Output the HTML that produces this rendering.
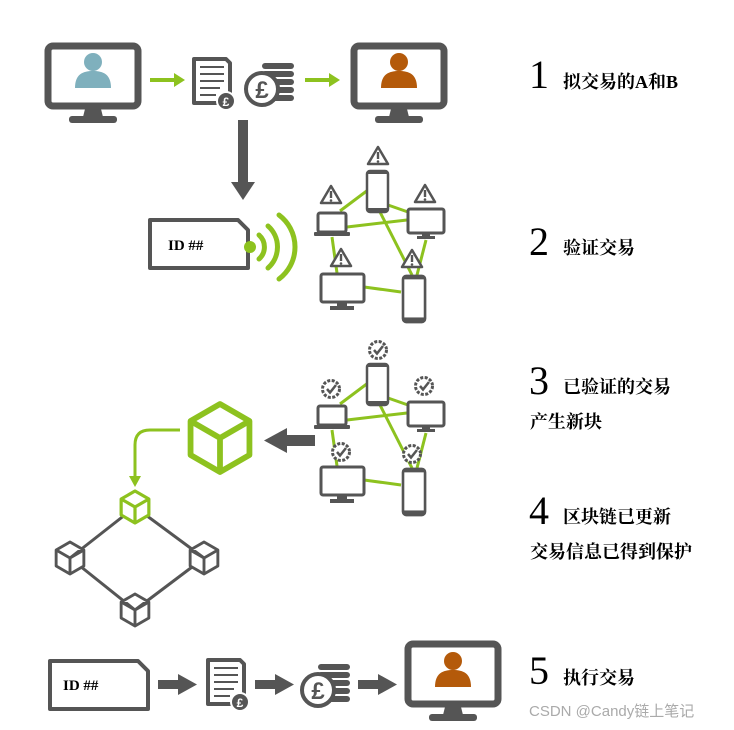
<!DOCTYPE html>
<html><head><meta charset="utf-8"><style>
body{margin:0;background:#fff;width:734px;height:730px;overflow:hidden}
svg{display:block}
.t{font-family:"Liberation Serif","Noto Serif CJK SC",serif;font-weight:bold;font-size:18px;fill:#000}
.n{font-family:"Liberation Serif",serif;font-size:40px;fill:#000}
.id{font-family:"Liberation Serif",serif;font-size:15px;font-weight:bold;fill:#000}
</style></head><body>
<svg width="734" height="730" viewBox="0 0 734 730" xmlns="http://www.w3.org/2000/svg">
<defs>
 <g id="mon">
  <rect x="3" y="3" width="90" height="60" rx="5" fill="#fff" stroke="#555" stroke-width="7"/>
  <path d="M40 66 L56 66 L58 74 L38 74 Z" fill="#555"/>
  <rect x="24" y="73" width="48" height="7" rx="3" fill="#555"/>
 </g>
 <g id="person">
  <circle cx="0" cy="0" r="9"/>
  <path d="M-18 26 C-18 12 -10 9 0 9 C10 9 18 12 18 26 Z"/>
 </g>
 <g id="doc">
  <path d="M2 2 H34 L38 6 V46 H2 Z" fill="#fff" stroke="#555" stroke-width="4" stroke-linejoin="round"/>
  <g stroke="#555" stroke-width="2"><line x1="8" y1="10" x2="32" y2="10"/><line x1="8" y1="17" x2="32" y2="17"/><line x1="8" y1="24" x2="32" y2="24"/><line x1="8" y1="31" x2="28" y2="31"/><line x1="8" y1="38" x2="24" y2="38"/></g>
  <circle cx="34" cy="44" r="9" fill="#555" stroke="#fff" stroke-width="2"/>
  <text x="34" y="49" font-family="Liberation Sans" font-weight="bold" font-size="12" fill="#fff" text-anchor="middle">£</text>
 </g>
 <g id="coins">
  <g fill="#555">
   <rect x="16" y="2" width="32" height="6" rx="3"/><rect x="16" y="10" width="32" height="6" rx="3"/><rect x="16" y="18" width="32" height="6" rx="3"/><rect x="16" y="26" width="32" height="6" rx="3"/><rect x="16" y="34" width="32" height="6" rx="3"/>
  </g>
  <circle cx="16" cy="28" r="16" fill="#fff" stroke="#555" stroke-width="4"/>
  <text x="16" y="37" font-family="Liberation Sans" font-weight="bold" font-size="24" fill="#555" text-anchor="middle">£</text>
 </g>
 <g id="card">
  <path d="M2 2 H90 L100 12 V50 H2 Z" fill="#fff" stroke="#555" stroke-width="4" stroke-linejoin="round"/>
 </g>
 <g id="phone">
  <rect x="0" y="0" width="21" height="41" rx="3" fill="#fff" stroke="#555" stroke-width="2.5"/>
  <rect x="0" y="0" width="21" height="3" fill="#555"/><rect x="0" y="37" width="21" height="4" fill="#555"/>
 </g>
 <g id="net">
  <g stroke="#8dc21f" stroke-width="3">
   <line x1="340" y1="211" x2="368" y2="190"/><line x1="388" y1="205" x2="408" y2="212"/>
   <line x1="347" y1="227" x2="407" y2="220"/><line x1="380" y1="212" x2="412" y2="275"/>
   <line x1="332" y1="237" x2="337" y2="273"/><line x1="426" y1="240" x2="417" y2="275"/>
   <line x1="364" y1="287" x2="401" y2="292"/>
  </g>
  <use href="#phone" x="367" y="171"/>
  <use href="#phone" x="403" y="276" transform="translate(403 276) scale(1.05 1.12) translate(-403 -276)"/>
  <rect x="318" y="213" width="28" height="19" rx="2" fill="#fff" stroke="#555" stroke-width="3"/>
  <rect x="314" y="232" width="36" height="4" rx="1" fill="#555"/>
  <rect x="408" y="209" width="36" height="24" rx="2" fill="#fff" stroke="#555" stroke-width="3"/>
  <rect x="422" y="233" width="8" height="4" fill="#555"/><rect x="417" y="236" width="18" height="3" fill="#555"/>
  <rect x="321" y="274" width="43" height="28" rx="2" fill="#fff" stroke="#555" stroke-width="3"/>
  <rect x="337" y="302" width="10" height="5" fill="#555"/><rect x="330" y="306" width="24" height="4" fill="#555"/>
 </g>
 <g id="warn">
  <path d="M0 -9 L10 8 H-10 Z" fill="#fff" stroke="#555" stroke-width="2.5" stroke-linejoin="round"/>
  <rect x="-1.2" y="-4" width="2.4" height="7" fill="#555"/><circle cx="0" cy="5.5" r="1.3" fill="#555"/>
 </g>
 <g id="chk">
  <circle r="8.5" fill="#fff" stroke="#555" stroke-width="3" stroke-dasharray="3 1.5"/>
  <path d="M-4 0 L-1 3.5 L5 -4" fill="none" stroke="#555" stroke-width="2.5"/>
 </g>
 <g id="cube">
  <path d="M0 -1 L0.866 -0.5 L0.866 0.5 L0 1 L-0.866 0.5 L-0.866 -0.5 Z M-0.866 -0.5 L0 0 L0.866 -0.5 M0 0 L0 1" fill="#fff" stroke-linejoin="round"/>
 </g>
</defs>

<use href="#mon" x="45" y="43"/>
<use href="#person" transform="translate(93 62)" fill="#7fb0bd"/>
<g stroke="#8dc21f" stroke-width="4"><line x1="150" y1="80" x2="176" y2="80"/><line x1="305" y1="80" x2="331" y2="80"/></g>
<path d="M174 73 L185 80 L174 87 Z M329 73 L340 80 L329 87 Z" fill="#8dc21f"/>
<use href="#doc" x="192" y="57"/>
<use href="#coins" x="246" y="61"/>
<use href="#mon" x="351" y="43"/>
<use href="#person" transform="translate(399 62)" fill="#b45a0a"/>

<rect x="238" y="120" width="10" height="65" fill="#555"/>
<path d="M231 182 H255 L243 200 Z" fill="#555"/>

<use href="#card" x="148" y="218"/>
<text x="168" y="250" class="id">ID ##</text>
<circle cx="250" cy="247" r="6" fill="#8dc21f"/>
<g fill="none" stroke="#8dc21f" stroke-width="5" stroke-linecap="round">
 <path d="M259 235 A16 16 0 0 1 259 259"/>
 <path d="M268 226 A28 28 0 0 1 268 268"/>
 <path d="M279 215 A40 40 0 0 1 279 279"/>
</g>
<use href="#net"/>
<use href="#warn" x="378" y="156"/><use href="#warn" x="331" y="195"/><use href="#warn" x="425" y="194"/><use href="#warn" x="341" y="258"/><use href="#warn" x="412" y="259"/>

<use href="#net" y="193"/>
<use href="#chk" x="378" y="350"/><use href="#chk" x="331" y="389"/><use href="#chk" x="424" y="386"/><use href="#chk" x="341" y="452"/><use href="#chk" x="412" y="454"/>
<rect x="285" y="435" width="30" height="11" fill="#555"/>
<path d="M287 428 L264 440.5 L287 453 Z" fill="#555"/>
<use href="#cube" transform="translate(220 438) scale(34)" stroke="#8dc21f" stroke-width="0.17"/>
<path d="M180 430 H150 Q135 430 135 445 V478" fill="none" stroke="#8dc21f" stroke-width="3"/>
<path d="M129 476 L141 476 L135 487 Z" fill="#8dc21f"/>
<g stroke="#555" stroke-width="3">
 <line x1="135" y1="507" x2="70" y2="558"/><line x1="135" y1="507" x2="204" y2="558"/>
 <line x1="70" y1="558" x2="135" y2="610"/><line x1="204" y1="558" x2="135" y2="610"/>
</g>
<use href="#cube" transform="translate(135 507) scale(16)" stroke="#8dc21f" stroke-width="0.2"/>
<use href="#cube" transform="translate(70 558) scale(16)" stroke="#555" stroke-width="0.18"/>
<use href="#cube" transform="translate(204 558) scale(16)" stroke="#555" stroke-width="0.18"/>
<use href="#cube" transform="translate(135 610) scale(16)" stroke="#555" stroke-width="0.18"/>

<use href="#card" x="48" y="659"/>
<text x="63" y="690" class="id">ID ##</text>
<g fill="#555">
 <rect x="158" y="680" width="22" height="9"/><path d="M178 674 L197 684.5 L178 695 Z"/>
 <rect x="255" y="680" width="22" height="9"/><path d="M275 674 L294 684.5 L275 695 Z"/>
 <rect x="358" y="680" width="22" height="9"/><path d="M378 674 L397 684.5 L378 695 Z"/>
</g>
<use href="#doc" x="206" y="658"/>
<use href="#coins" x="302" y="662"/>
<use href="#mon" x="405" y="641"/>
<use href="#person" transform="translate(453 661)" fill="#b45a0a"/>

<text x="529" y="88" class="n">1</text><text x="563" y="88" class="t">拟交易的A和B</text>
<text x="529" y="255" class="n">2</text><text x="563" y="254" class="t">验证交易</text>
<text x="529" y="394" class="n">3</text><text x="563" y="393" class="t">已验证的交易</text>
<text x="530" y="428" class="t">产生新块</text>
<text x="529" y="524" class="n">4</text><text x="563" y="523" class="t">区块链已更新</text>
<text x="530" y="558" class="t">交易信息已得到保护</text>
<text x="529" y="684" class="n">5</text><text x="563" y="684" class="t">执行交易</text>
<text x="529" y="716" font-family="Liberation Sans,Noto Sans CJK SC,sans-serif" font-size="15" fill="#aaa">CSDN @Candy链上笔记</text>
</svg>
</body></html>
